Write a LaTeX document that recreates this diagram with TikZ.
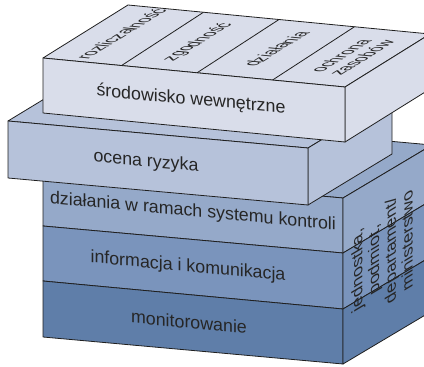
\documentclass[tikz,border=0pt]{standalone}
\usepackage{fontspec}
\setmainfont{Liberation Sans}
\usetikzlibrary{calc, positioning}
\definecolor{envFill}{HTML}{D9DDEA}
\definecolor{riskFill}{HTML}{B6C2DA}
\definecolor{actFill}{HTML}{95A9C9}
\definecolor{infoFill}{HTML}{7A94BC}
\definecolor{monFill}{HTML}{5F7EA9}
\definecolor{edgeGray}{HTML}{1F1F1F}
\definecolor{textGray}{HTML}{262626}
\newcommand{\labelFont}{\fontsize{17.8}{19.5}\selectfont}
\newcommand{\topLabelFont}{\fontsize{16.5}{18.5}\selectfont}
\tikzstyle{face}=[draw=edgeGray, line width=0.8pt, line join=round]
\tikzstyle{label}=[font=\labelFont, text=textGray, inner sep=0pt, align=center]
\tikzstyle{frontLabel}=[label, yslant=-0.093]
\tikzstyle{topLabel}=[label, font=\topLabelFont, cm={0.849,0.529,-1.15,0.11,(0,0)}]
\tikzstyle{sideLabel}=[label, cm={0,1,-0.859,-0.512,(0,0)}]

\begin{document}
\begin{tikzpicture}[x=1pt, y=-1pt]
  \useasboundingbox (0,0) rectangle (424,367);
  \clip (0,0) rectangle (424,367);

  \filldraw[face, fill=actFill] (43,171) -- (343,198) -- ++(89,-53) -- (132,118) -- cycle;
  \foreach \fillc/\ya/\yb/\yc/\yd in {actFill/171/198/253/226, infoFill/226/253/309/281, monFill/281/309/364/337} {
    \filldraw[face, fill=\fillc] (43,\ya) -- (343,\yb) -- (343,\yc) -- (43,\yd) -- cycle;
    \filldraw[face, fill=\fillc] (343,\yb) -- ++(89,-53) -- ++(0,\yc-\yb) -- (343,\yc) -- cycle;
  }
  \node[frontLabel] (actLabel) at (193,212) {działania w ramach systemu kontroli};
  \node[frontLabel] (infoLabel) at (188,267) {informacja i komunikacja};
  \node[frontLabel] (monLabel) at (189,322) {monitorowanie};
  \node[sideLabel] (unitLabel) at (382,256) {jednostka,\\podmiot,\\departament/\\ministerstwo};

  \filldraw[face, fill=riskFill] (8,121) -- (308,148) -- (392,97) -- (92,70) -- cycle;
  \filldraw[face, fill=riskFill] (308,148) -- (392,97) -- (392,154) -- (308,205) -- cycle;
  \filldraw[face, fill=riskFill] (8,121) -- (308,148) -- (308,205) -- (8,178) -- cycle;
  \node[frontLabel] (riskLabel) at (146,162) {ocena ryzyka};

  \filldraw[face, fill=envFill] (43,58) -- (345,87) -- (430,34) -- (128,5) -- cycle;
  \filldraw[face, fill=envFill] (345,87) -- (430,34) -- (430,89) -- (345,142) -- cycle;
  \filldraw[face, fill=envFill] (43,58) -- (345,87) -- (345,142) -- (43,113) -- cycle;
  \foreach \f/\b in {0.26/0.25, 0.51/0.5, 0.76/0.75}
    \draw[face] ($(43,58)!\f!(345,87)$) -- ($(128,5)!\b!(430,34)$);
  \node[frontLabel] (envLabel) at (191,100) {środowisko wewnętrzne};
  \node[topLabel] (accLabel) at (121,34) {rozliczalność};
  \node[topLabel] (compLabel) at (198,42) {zgodność};
  \node[topLabel] (opsLabel) at (276,49) {działania};
  \node[topLabel] (assetLabel) at (351,57) {ochrona\\zasobów};
\end{tikzpicture}
\end{document}
